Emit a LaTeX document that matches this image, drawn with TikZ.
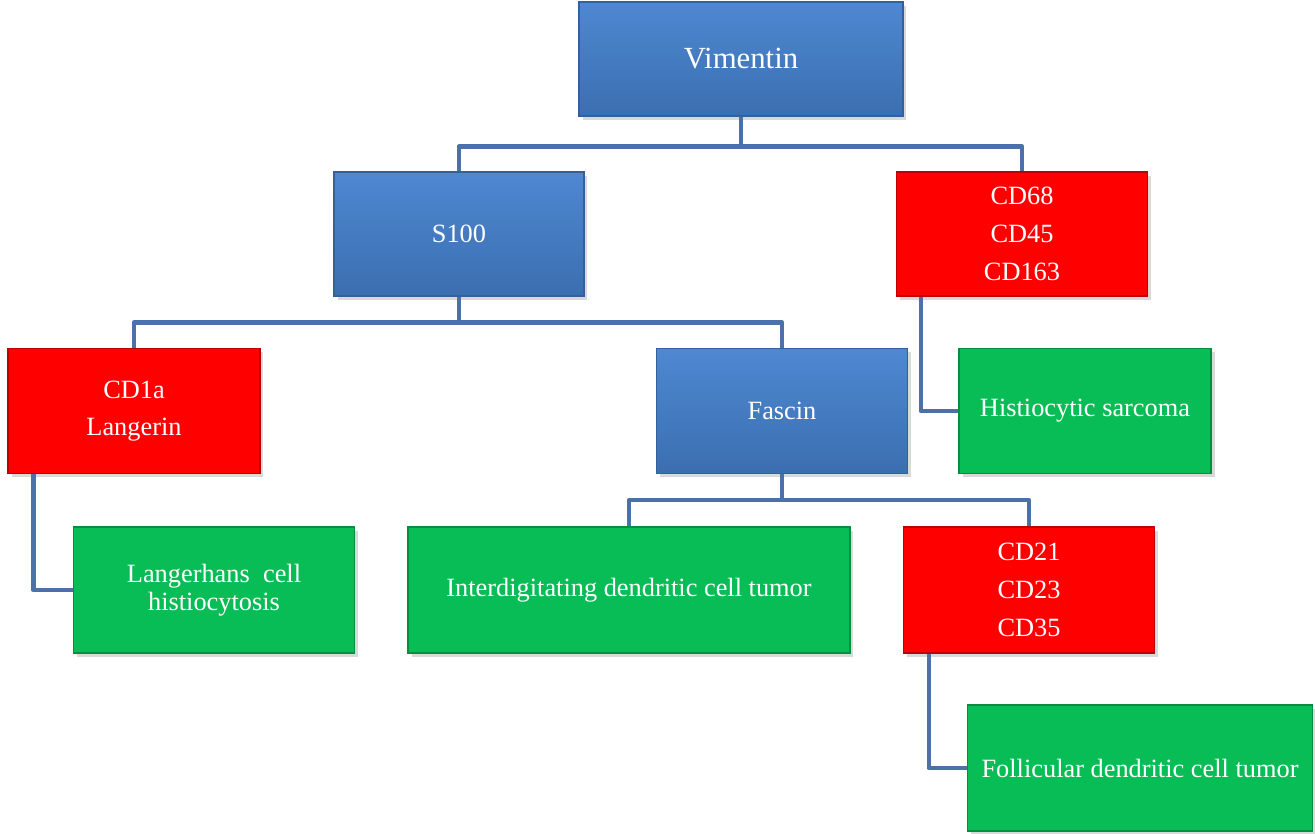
\documentclass[tikz,border=0pt]{standalone}
\usepackage{fontspec}
\setmainfont{Liberation Serif}
\usetikzlibrary{shadows}

\definecolor{boxblue}{HTML}{4582CF}
\definecolor{boxred}{HTML}{FF0000}
\definecolor{boxgreen}{HTML}{08BD56}
\definecolor{linkblue}{HTML}{4A72A8}

\tikzset{
  box/.style={draw=#1!75!black, line width=0.8pt, fill=#1, text=white,
    align=center, inner sep=0pt,
    drop shadow={opacity=0.3, shadow xshift=2pt, shadow yshift=-2pt},
    font=\fontsize{15}{21.5}\selectfont},
  bluebox/.style={box=boxblue, top color=boxblue!95!white, bottom color=boxblue!85!black},
  redbox/.style={box=boxred},
  greenbox/.style={box=boxgreen},
  link/.style={draw=linkblue, line width=2.6pt, line join=round},
}

\begin{document}
\begin{tikzpicture}[x=0.02cm, y=-0.02cm]
  \useasboundingbox (0,0) rectangle (1315,833);
  % top levels
  \node[bluebox, minimum width=6.48cm, minimum height=2.28cm,
        font=\fontsize{17.5}{21}\selectfont] (vim) at (741,59) {Vimentin};
  \node[bluebox, minimum width=5cm, minimum height=2.48cm] (s100) at (459,234) {S100};
  \node[redbox, minimum width=5.02cm, minimum height=2.48cm] (cd68) at (1022,234) {CD68\\CD45\\CD163};
  % third row
  \node[redbox, minimum width=5.04cm, minimum height=2.5cm] (cd1a) at (134,411) {CD1a\\Langerin};
  \node[bluebox, minimum width=5.02cm, minimum height=2.5cm] (fascin) at (782,411) {Fascin};
  \node[greenbox, minimum width=5.04cm, minimum height=2.5cm] (hist) at (1085,411) {Histiocytic sarcoma};
  % fourth row
  \node[greenbox, minimum width=5.62cm, minimum height=2.52cm,
        font=\fontsize{15}{16}\selectfont] (lch) at (214,590) {Langerhans\ \ cell\\histiocytosis};
  \node[greenbox, minimum width=8.84cm, minimum height=2.52cm] (idc) at (629,590) {Interdigitating dendritic cell tumor};
  \node[redbox, minimum width=5.02cm, minimum height=2.52cm] (cd21) at (1029,590) {CD21\\CD23\\CD35};
  \node[greenbox, minimum width=6.9cm, minimum height=2.52cm] (fdc) at (1140,768) {Follicular dendritic cell tumor};

  % connectors
  \draw[link] (vim.south) -- ++(0,30) -| (s100.north);
  \draw[link] (vim.south) -- ++(0,30) -| (cd68.north);
  \draw[link] (s100.south) -- ++(0,26) -| (cd1a.north);
  \draw[link] (s100.south) -- ++(0,26) -| (fascin.north);
  \draw[link] (fascin.south) -- ++(0,26) -| (idc.north);
  \draw[link] (fascin.south) -- ++(0,26) -| (cd21.north);
  \draw[link] ([xshift=0.5cm]cd68.south west) |- (hist.west);
  \draw[link] ([xshift=0.52cm]cd1a.south west) |- (lch.west);
  \draw[link] ([xshift=0.52cm]cd21.south west) |- (fdc.west);
\end{tikzpicture}
\end{document}
